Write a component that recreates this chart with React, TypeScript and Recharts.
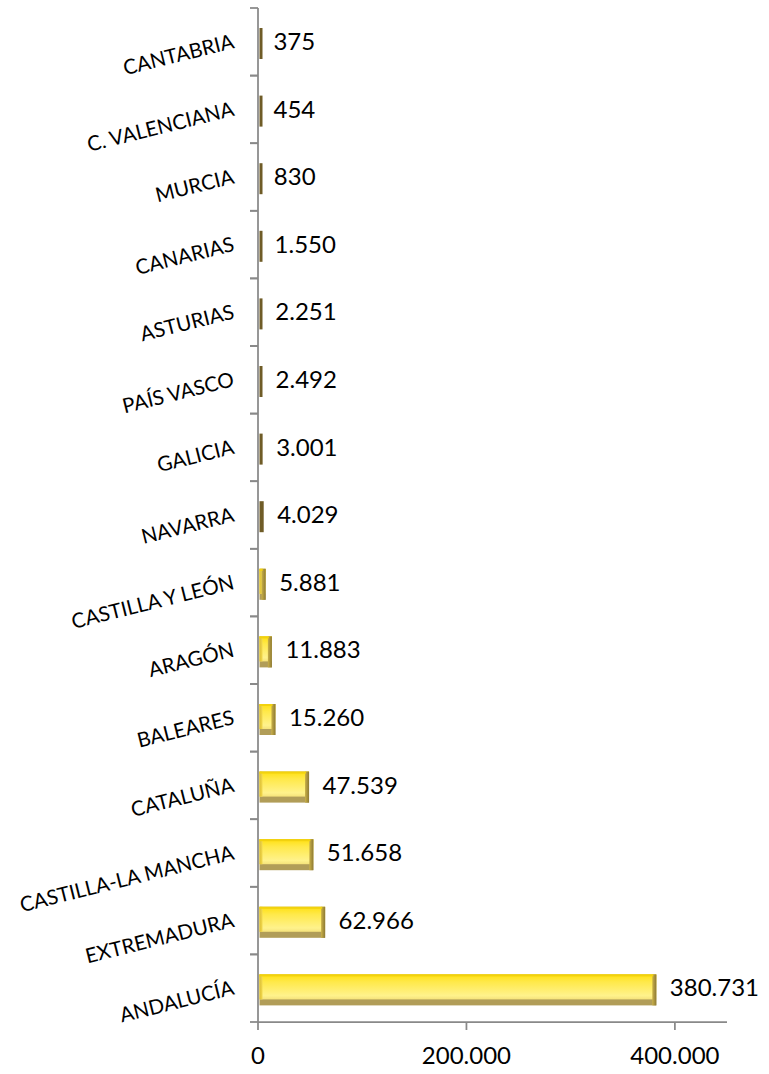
import { BarChart, Bar, XAxis, YAxis, LabelList } from "recharts";

const regions = [
  "CANTABRIA",
  "C. VALENCIANA",
  "MURCIA",
  "CANARIAS",
  "ASTURIAS",
  "PAÍS VASCO",
  "GALICIA",
  "NAVARRA",
  "CASTILLA Y LEÓN",
  "ARAGÓN",
  "BALEARES",
  "CATALUÑA",
  "CASTILLA-LA MANCHA",
  "EXTREMADURA",
  "ANDALUCÍA",
];
const hectares = [
  375, 454, 830, 1550, 2251, 2492, 3001, 4029, 5881, 11883, 15260, 47539, 51658,
  62966, 380731,
];
const xTicks = [0, 200000, 400000];

const data = regions.map((name, i) => ({ name, value: hectares[i] }));

const W = 769;
const H = 1074;
const TOP = 8;
const BOTTOM = 52;
const AXIS_X = 258;
const HALF = (H - TOP - BOTTOM) / regions.length / 2;
const FONT = "Lato, 'Open Sans', sans-serif";
const AXIS_COLOR = "#898989";

const fmt = (v: number) =>
  String(Math.round(v)).replace(/\B(?=(\d{3})+(?!\d))/g, ".");

function RegionTick(props: any) {
  const { y, payload } = props;
  const tx = AXIS_X - 24;
  const ty = y + 1;
  return (
    <g>
      <line x1={AXIS_X - 8} y1={y - HALF} x2={AXIS_X} y2={y - HALF} stroke={AXIS_COLOR} strokeWidth={1.75} />
      <line x1={AXIS_X - 8} y1={y + HALF} x2={AXIS_X} y2={y + HALF} stroke={AXIS_COLOR} strokeWidth={1.75} />
      <text
        x={tx}
        y={ty}
        transform={`rotate(-14, ${tx}, ${ty})`}
        textAnchor="end"
        dominantBaseline="middle"
        fontSize={20.5}
        fontFamily={FONT}
        fill="#000"
      >
        {payload.value}
      </text>
    </g>
  );
}

function BevelBar(props: any) {
  const { x, y, width, height } = props;
  const left = x + 1.5;
  const top = y + 2;
  const w = Math.max(width, 3);
  if (w < 5) {
    return <rect x={left} y={top} width={w} height={height} fill="#6f5c27" />;
  }
  const shadow = 6;
  return (
    <g>
      <rect x={left} y={top} width={w} height={height} fill="#b19d58" />
      <rect x={left} y={top} width={w} height={height - shadow} fill="url(#barFace)" />
      <rect x={left} y={top} width={3} height={height - shadow} fill="url(#barLeft)" />
      <rect x={left + w - 4} y={top} width={4} height={height} fill="url(#barRight)" />
      <rect x={left} y={top} width={w - 3} height={2} fill="#f2d20e" />
    </g>
  );
}

export default function App() {
  return (
    <div style={{ position: "absolute", left: 0, top: 0, background: "#fff" }}>
      <BarChart
        width={W}
        height={H}
        data={data}
        layout="vertical"
        margin={{ top: TOP, right: 42, left: 0, bottom: 0 }}
      >
        <defs>
          <linearGradient id="barFace" x1="0" y1="0" x2="0" y2="1">
            <stop offset="0%" stopColor="#ffe010" />
            <stop offset="30%" stopColor="#ffe94a" />
            <stop offset="85%" stopColor="#fff28c" />
            <stop offset="100%" stopColor="#f5e27a" />
          </linearGradient>
          <linearGradient id="barLeft" x1="0" y1="0" x2="1" y2="0">
            <stop offset="0%" stopColor="#dcbf35" />
            <stop offset="100%" stopColor="#f2d94f" />
          </linearGradient>
          <linearGradient id="barRight" x1="0" y1="0" x2="1" y2="0">
            <stop offset="0%" stopColor="#c9b048" />
            <stop offset="100%" stopColor="#8e7a34" />
          </linearGradient>
        </defs>
        <XAxis
          type="number"
          domain={[0, 450000]}
          ticks={xTicks}
          tickFormatter={fmt}
          height={BOTTOM}
          stroke={AXIS_COLOR}
          strokeWidth={1.75}
          tickSize={8}
          tickMargin={17}
          tick={{ fill: "#000", fontSize: 24, fontFamily: FONT }}
          interval={0}
        />
        <YAxis
          type="category"
          dataKey="name"
          width={AXIS_X}
          stroke={AXIS_COLOR}
          strokeWidth={1.75}
          tickLine={false}
          tick={<RegionTick />}
          interval={0}
        />
        <Bar dataKey="value" barSize={31} shape={<BevelBar />} isAnimationActive={false}>
          <LabelList
            dataKey="value"
            position="right"
            offset={15}
            formatter={(v: any) => fmt(Number(v))}
            style={{ fill: "#000", fontSize: 24, fontFamily: FONT }}
          />
        </Bar>
      </BarChart>
    </div>
  );
}
